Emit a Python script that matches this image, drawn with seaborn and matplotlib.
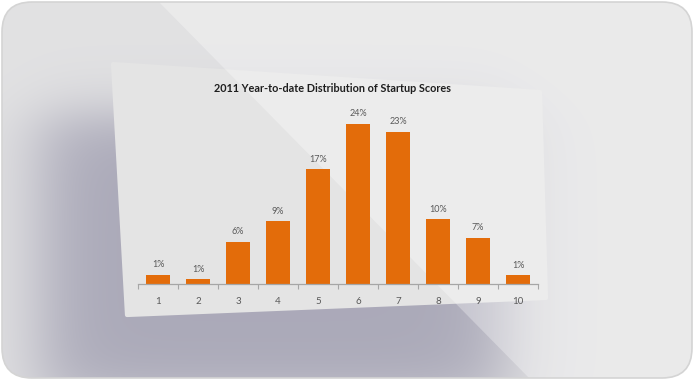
import numpy as np
import pandas as pd
import matplotlib
matplotlib.use("Agg")
import matplotlib.pyplot as plt
from matplotlib.patches import FancyBboxPatch, Polygon
import seaborn as sns

# --- data ---
scores = ["1", "2", "3", "4", "5", "6", "7", "8", "9", "10"]
shares = [1.4, 0.7, 6.3, 9.4, 17.2, 24.0, 22.8, 9.7, 6.9, 1.3]
title = "2011 Year-to-date Distribution of Startup Scores"

BAR = "#e36c0a"
TXT = "#595959"
W, H = 694, 380

sns.set_theme(style="white")
plt.rcParams["font.family"] = ["Lato", "DejaVu Sans"]

fig = plt.figure(figsize=(W / 100, H / 100), dpi=100, facecolor="white")

# --- background: grey frame, soft shadow, tilted card, light band ---
bg = fig.add_axes([0, 0, 1, 1])
bg.set_xlim(0, W)
bg.set_ylim(H, 0)
bg.axis("off")

yy, xx = np.mgrid[0:H, 0:W] + 0.5

def soft_box(v, lo, hi, soft):
    return 0.5 * (1 + np.tanh((v - lo) / soft)) * 0.5 * (1 + np.tanh((hi - v) / soft))

shade = soft_box(xx, 40, 505, 42) * soft_box(yy, 115, 400, 32)
base = np.array([0.885, 0.885, 0.89])
dark = np.array([0.67, 0.665, 0.725])
img = base * (1 - shade[..., None]) + dark * shade[..., None]

frame = FancyBboxPatch((2, 2), W - 4, H - 4, boxstyle="round,pad=0,rounding_size=30",
                       facecolor="none", edgecolor="#d4d4d4", lw=1.2, zorder=5)
bg.add_patch(frame)
im = bg.imshow(img, extent=(0, W, H, 0), aspect="auto", zorder=0)
im.set_clip_path(frame)

card = Polygon([(113, 64), (540, 92), (546, 298), (127, 315)], closed=True,
               facecolor="#e4e4e4", edgecolor="#e4e4e4", lw=3, joinstyle="round", zorder=1)
bg.add_patch(card)

band = Polygon([(157, 0), (W, 0), (W, H), (531, H)], closed=True,
               facecolor="white", alpha=0.3, edgecolor="none", zorder=2)
bg.add_patch(band)
band.set_clip_path(frame)

# --- chart ---
ax = fig.add_axes([138 / W, 1 - 284 / H, 400 / W, 177 / H])
ax.patch.set_alpha(0)
df = pd.DataFrame({"score": scores, "share": shares})
sns.barplot(data=df, x="score", y="share", color=BAR, width=0.62, saturation=1,
            linewidth=0, ax=ax)
ax.set_xlim(-0.5, 9.5)
ax.set_ylim(0, 26.5)
ax.set_xlabel("")
ax.set_ylabel("")
ax.set_yticks([])
sns.despine(ax=ax, left=True)
ax.spines["bottom"].set_color("#a6a6a6")
ax.spines["bottom"].set_linewidth(0.9)
ax.set_xticks(np.arange(-0.5, 10, 1), minor=True)
ax.tick_params(axis="x", which="minor", bottom=True, length=3.5, width=0.8, color="#a6a6a6")
ax.tick_params(axis="x", which="major", bottom=True, length=0, pad=9, labelsize=7, labelcolor=TXT)

ax.bar_label(ax.containers[0], labels=[f"{round(v)}%" for v in shares],
             padding=4, fontsize=6.5, color=TXT)

t = fig.text(332 / W, 1 - 89 / H, title, ha="center", va="center",
             fontsize=10, weight="bold", color="#1e1e1e")
# fit the title to the width seen in the picture (~237 px)
fig.canvas.draw()
tw = t.get_window_extent().width
t.set_fontsize(10 * 237 / tw)

fig.savefig("out.png", dpi=100, facecolor="white")
